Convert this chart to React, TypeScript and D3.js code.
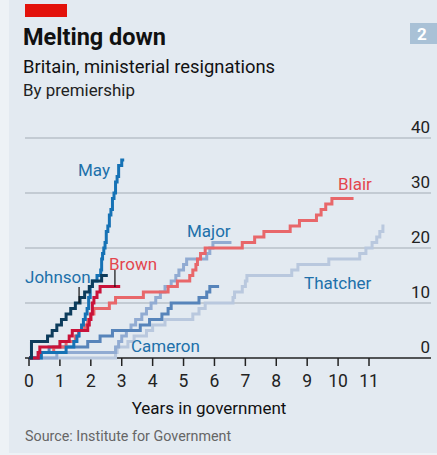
import { useMemo } from "react";
import * as d3 from "d3";

// step points: [years in government, cumulative resignations]
const thatcher: [number, number][] = [
  [2.8, 1], [2.85, 2], [3.2, 3], [3.4, 4], [3.8, 5], [4.0, 6], [4.4, 7], [5.3, 8], [5.5, 9], [5.7, 10],
  [6.6, 11], [6.65, 12], [6.9, 13], [7.0, 14], [7.05, 15], [8.5, 16], [8.7, 17], [9.7, 18], [10.7, 19],
  [10.9, 20], [11.1, 21], [11.25, 22], [11.35, 23], [11.45, 24],
];
const thatcherEnd = 11.5;

const major: [number, number][] = [
  [0.9, 1], [2.8, 2], [2.9, 3], [3.0, 4], [3.15, 5], [3.3, 6], [3.45, 7], [3.65, 8], [3.8, 9], [3.95, 10],
  [4.1, 11], [4.25, 12], [4.4, 13], [4.6, 14], [4.75, 15], [4.85, 16], [5.0, 17], [5.1, 18], [5.75, 19],
  [5.85, 20], [5.95, 21],
];
const majorEnd = 6.55;

const cameron: [number, number][] = [
  [0.3, 1], [0.65, 2], [1.9, 3], [2.3, 4], [2.7, 5], [3.6, 6], [3.9, 7], [4.3, 8], [4.5, 9], [4.6, 10],
  [5.5, 11], [5.75, 12], [5.85, 13],
];
const cameronEnd = 6.15;

const blair: [number, number][] = [
  [0.3, 1], [0.8, 2], [1.2, 3], [1.5, 4], [1.6, 5], [1.8, 6], [1.9, 7], [2.0, 8], [2.1, 9], [2.6, 10],
  [2.8, 11], [3.7, 12], [4.5, 13], [4.8, 14], [5.2, 15], [5.3, 16], [5.4, 17], [5.45, 18], [5.55, 19],
  [5.7, 20], [6.9, 21], [7.3, 22], [7.6, 23], [8.45, 24], [8.75, 25], [9.3, 26], [9.45, 27], [9.6, 28],
  [9.8, 29],
];
const blairEnd = 10.5;

const may: [number, number][] = [
  [0.4, 1], [1.2, 2], [1.45, 3], [1.55, 4], [1.62, 5], [1.7, 6], [1.76, 7], [1.82, 8], [1.88, 9], [1.93, 11],
  [1.98, 13], [2.05, 14], [2.2, 15], [2.32, 16], [2.35, 18], [2.38, 19], [2.42, 20], [2.46, 21], [2.5, 23],
  [2.55, 24], [2.6, 26], [2.65, 27], [2.7, 29], [2.75, 30], [2.8, 32], [2.85, 33], [2.9, 35], [3.0, 36],
];
const mayEnd = 3.08;

const brown: [number, number][] = [
  [0.3, 1], [0.35, 2], [1.0, 3], [1.3, 4], [1.4, 5], [1.9, 6], [1.95, 7], [2.0, 8], [2.05, 10], [2.1, 11],
  [2.2, 12], [2.3, 13],
];
const brownEnd = 2.95;

const johnson: [number, number][] = [
  [0.08, 3], [0.6, 4], [0.75, 5], [0.9, 6], [1.05, 7], [1.2, 8], [1.35, 9], [1.5, 10], [1.65, 11], [1.8, 12],
  [1.95, 13], [2.05, 14], [2.35, 15],
];
const johnsonEnd = 2.55;

const yTicks = [0, 10, 20, 30, 40];
const xTicks = [0, 1, 2, 3, 4, 5, 6, 7, 8, 9, 10, 11];

const series = [
  { name: "Thatcher", pts: thatcher, end: thatcherEnd, color: "#b9c8de" },
  { name: "Major", pts: major, end: majorEnd, color: "#91abd2" },
  { name: "Cameron", pts: cameron, end: cameronEnd, color: "#5784ba" },
  { name: "Blair", pts: blair, end: blairEnd, color: "#e8676a" },
  { name: "May", pts: may, end: mayEnd, color: "#1672b5" },
  { name: "Brown", pts: brown, end: brownEnd, color: "#c9133a" },
  { name: "Johnson", pts: johnson, end: johnsonEnd, color: "#0d3c5c" },
];

const W = 437;
const H = 455;
const blue = "#2070aa";
const red = "#e3464e";
const font = "Roboto, sans-serif";

export default function App() {
  const x = d3.scaleLinear().domain([0, 11]).range([29, 369]);
  const y = d3.scaleLinear().domain([0, 40]).range([358, 138]);

  const paths = useMemo(() => {
    const line = d3
      .line<[number, number]>()
      .x((d) => x(d[0]))
      .y((d) => y(d[1]))
      .curve(d3.curveStepAfter);
    return series.map((s) => {
      const last = s.pts[s.pts.length - 1][1];
      const data: [number, number][] = [[0, 0], ...s.pts, [s.end, last]];
      return { ...s, d: line(data) };
    });
  }, []);

  return (
    <svg
      width={W}
      height={H}
      style={{ position: "absolute", left: 0, top: 0, fontFamily: font }}
    >
      <rect x={0} y={0} width={W} height={H} fill="#edf2f6" />
      <rect x={9} y={0} width={W - 9} height={453} fill="#e3eaf1" />
      <rect x={25} y={4} width={42} height={13} fill="#e3120b" />
      <rect x={410} y={23} width={27} height={21} fill="#a9c1d6" />
      <text x={417} y={40} fill="#fff" fontSize={17} fontWeight="bold">2</text>

      <text x={23} y={45} fontSize={23.5} fontWeight="bold" fill="#111">Melting down</text>
      <text x={23} y={73} fontSize={18.4} fill="#111">Britain, ministerial resignations</text>
      <text x={23} y={96} fontSize={16.9} fill="#222">By premiership</text>

      {/* gridlines */}
      {yTicks.map((t) => (
        <g key={t}>
          {t > 0 && (
            <line x1={25} x2={431} y1={y(t)} y2={y(t)} stroke="#b9c0c8" strokeWidth={1.5} />
          )}
          <text x={430} y={y(t) - 5} textAnchor="end" fontSize={17} fill="#222">
            {t}
          </text>
        </g>
      ))}
      <line x1={25} x2={431} y1={y(0)} y2={y(0)} stroke="#222" strokeWidth={1.5} />
      {xTicks.map((t) => (
        <g key={t}>
          <line x1={x(t)} x2={x(t)} y1={y(0)} y2={y(0) + 8} stroke="#222" strokeWidth={1.5} />
          <text x={x(t)} y={387} textAnchor="middle" fontSize={17.5} fill="#222">
            {t}
          </text>
        </g>
      ))}

      {paths.map((s) => (
        <path key={s.name} d={s.d ?? ""} fill="none" stroke={s.color} strokeWidth={3} />
      ))}

      {/* pointers */}
      <line x1={x(1.62)} x2={x(1.62)} y1={287} y2={303} stroke="#111" strokeWidth={1.2} />
      <line x1={x(2.78)} x2={x(2.78)} y1={270} y2={287} stroke="#111" strokeWidth={1.2} />

      <text x={78} y={176} fontSize={17} fill={blue}>May</text>
      <text x={25} y={283} fontSize={17} fill={blue}>Johnson</text>
      <text x={109} y={270} fontSize={17} fill={red}>Brown</text>
      <text x={187} y={237} fontSize={17} fill={blue}>Major</text>
      <text x={338} y={190} fontSize={17} fill={red}>Blair</text>
      <text x={304} y={289} fontSize={17} fill={blue}>Thatcher</text>
      <text x={131} y={352} fontSize={17} fill={blue}>Cameron</text>

      <text x={209} y={414} textAnchor="middle" fontSize={17} fill="#111">Years in government</text>
      <text x={25} y={441} fontSize={14.3} fill="#666">Source: Institute for Government</text>
    </svg>
  );
}
